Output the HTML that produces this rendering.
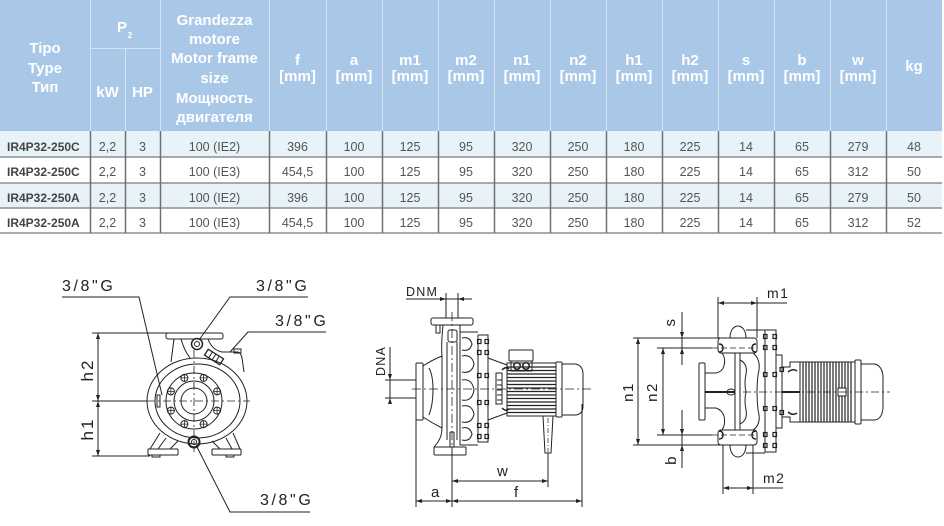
<!DOCTYPE html>
<html><head><meta charset="utf-8"><style>
html,body{margin:0;padding:0;background:#fff;}
svg{display:block;}
</style></head><body>
<svg width="944" height="526" viewBox="0 0 944 526" xmlns="http://www.w3.org/2000/svg" font-family="'Liberation Sans', sans-serif">
<!-- ===== TABLE ===== -->
<rect x="0" y="0" width="942" height="131" fill="#a9c8e8"/>
<rect x="0" y="131" width="942" height="26" fill="#e7f3f8"/>
<rect x="0" y="157" width="942" height="26" fill="#ffffff"/>
<rect x="0" y="183" width="942" height="25" fill="#e7f3f8"/>
<rect x="0" y="208" width="942" height="25" fill="#ffffff"/>
<g stroke="#d3e3f3" stroke-width="1">
<line x1="90.5" y1="0" x2="90.5" y2="131"/>
<line x1="160.5" y1="0" x2="160.5" y2="131"/>
<line x1="125.5" y1="48" x2="125.5" y2="131"/>
<line x1="90" y1="48.5" x2="160" y2="48.5"/>
<line x1="269.5" y1="0" x2="269.5" y2="131"/>
<line x1="326.5" y1="0" x2="326.5" y2="131"/>
<line x1="382.5" y1="0" x2="382.5" y2="131"/>
<line x1="438.5" y1="0" x2="438.5" y2="131"/>
<line x1="494.5" y1="0" x2="494.5" y2="131"/>
<line x1="550.5" y1="0" x2="550.5" y2="131"/>
<line x1="606.5" y1="0" x2="606.5" y2="131"/>
<line x1="662.5" y1="0" x2="662.5" y2="131"/>
<line x1="718.5" y1="0" x2="718.5" y2="131"/>
<line x1="774.5" y1="0" x2="774.5" y2="131"/>
<line x1="830.5" y1="0" x2="830.5" y2="131"/>
<line x1="886.5" y1="0" x2="886.5" y2="131"/>
</g>
<g stroke="#8f8f8f" stroke-width="1.5">
<line x1="0" y1="157" x2="942" y2="157"/>
<line x1="0" y1="183" x2="942" y2="183"/>
<line x1="0" y1="208" x2="942" y2="208"/>
<line x1="0" y1="233" x2="942" y2="233"/>
</g>
<g stroke="#707070" stroke-width="1.5">
<line x1="90.5" y1="131" x2="90.5" y2="233"/>
<line x1="125.5" y1="131" x2="125.5" y2="233"/>
<line x1="160.5" y1="131" x2="160.5" y2="233"/>
<line x1="269.5" y1="131" x2="269.5" y2="233"/>
<line x1="326.5" y1="131" x2="326.5" y2="233"/>
<line x1="382.5" y1="131" x2="382.5" y2="233"/>
<line x1="438.5" y1="131" x2="438.5" y2="233"/>
<line x1="494.5" y1="131" x2="494.5" y2="233"/>
<line x1="550.5" y1="131" x2="550.5" y2="233"/>
<line x1="606.5" y1="131" x2="606.5" y2="233"/>
<line x1="662.5" y1="131" x2="662.5" y2="233"/>
<line x1="718.5" y1="131" x2="718.5" y2="233"/>
<line x1="774.5" y1="131" x2="774.5" y2="233"/>
<line x1="830.5" y1="131" x2="830.5" y2="233"/>
<line x1="886.5" y1="131" x2="886.5" y2="233"/>
</g>
<!-- header text -->
<g fill="#ffffff" font-weight="bold" font-size="15" text-anchor="middle">
<text x="45" y="53">Tipo</text>
<text x="45" y="73">Type</text>
<text x="45" y="92">Тип</text>
<text x="122" y="32">P</text>
<text x="130" y="38" font-size="8">2</text>
<text x="107.5" y="97">kW</text>
<text x="142.5" y="97">HP</text>
<text x="214.5" y="25">Grandezza</text>
<text x="214.5" y="44">motore</text>
<text x="214.5" y="63">Motor frame</text>
<text x="214.5" y="83">size</text>
<text x="214.5" y="103">Мощность</text>
<text x="214.5" y="122">двигателя</text>
<text x="297.5" y="65">f</text><text x="297.5" y="81">[mm]</text>
<text x="354" y="65">a</text><text x="354" y="81">[mm]</text>
<text x="410" y="65">m1</text><text x="410" y="81">[mm]</text>
<text x="466" y="65">m2</text><text x="466" y="81">[mm]</text>
<text x="522" y="65">n1</text><text x="522" y="81">[mm]</text>
<text x="578" y="65">n2</text><text x="578" y="81">[mm]</text>
<text x="634" y="65">h1</text><text x="634" y="81">[mm]</text>
<text x="690" y="65">h2</text><text x="690" y="81">[mm]</text>
<text x="746" y="65">s</text><text x="746" y="81">[mm]</text>
<text x="802" y="65">b</text><text x="802" y="81">[mm]</text>
<text x="858" y="65">w</text><text x="858" y="81">[mm]</text>
<text x="914" y="71">kg</text>
</g>
<!-- body text -->
<g fill="#444" font-weight="bold" font-size="12">
<text x="7" y="151">IR4P32-250C</text>
<text x="7" y="176">IR4P32-250C</text>
<text x="7" y="202">IR4P32-250A</text>
<text x="7" y="227">IR4P32-250A</text>
</g>
<g fill="#555" font-size="12.5" text-anchor="middle">
<text x="107.5" y="151">2,2</text><text x="142.5" y="151">3</text><text x="214.5" y="151">100 (IE2)</text><text x="297.5" y="151">396</text><text x="354" y="151">100</text><text x="410" y="151">125</text><text x="466" y="151">95</text><text x="522" y="151">320</text><text x="578" y="151">250</text><text x="634" y="151">180</text><text x="690" y="151">225</text><text x="746" y="151">14</text><text x="802" y="151">65</text><text x="858" y="151">279</text><text x="914" y="151">48</text>
<text x="107.5" y="176">2,2</text><text x="142.5" y="176">3</text><text x="214.5" y="176">100 (IE3)</text><text x="297.5" y="176">454,5</text><text x="354" y="176">100</text><text x="410" y="176">125</text><text x="466" y="176">95</text><text x="522" y="176">320</text><text x="578" y="176">250</text><text x="634" y="176">180</text><text x="690" y="176">225</text><text x="746" y="176">14</text><text x="802" y="176">65</text><text x="858" y="176">312</text><text x="914" y="176">50</text>
<text x="107.5" y="202">2,2</text><text x="142.5" y="202">3</text><text x="214.5" y="202">100 (IE2)</text><text x="297.5" y="202">396</text><text x="354" y="202">100</text><text x="410" y="202">125</text><text x="466" y="202">95</text><text x="522" y="202">320</text><text x="578" y="202">250</text><text x="634" y="202">180</text><text x="690" y="202">225</text><text x="746" y="202">14</text><text x="802" y="202">65</text><text x="858" y="202">279</text><text x="914" y="202">50</text>
<text x="107.5" y="227">2,2</text><text x="142.5" y="227">3</text><text x="214.5" y="227">100 (IE3)</text><text x="297.5" y="227">454,5</text><text x="354" y="227">100</text><text x="410" y="227">125</text><text x="466" y="227">95</text><text x="522" y="227">320</text><text x="578" y="227">250</text><text x="634" y="227">180</text><text x="690" y="227">225</text><text x="746" y="227">14</text><text x="802" y="227">65</text><text x="858" y="227">312</text><text x="914" y="227">52</text>
</g>

<!-- ===== DRAWING 1: FRONT VIEW ===== -->
<g fill="#222" font-size="16" letter-spacing="2.6">
<text x="62" y="291">3/8"G</text>
<text x="256" y="291">3/8"G</text>
<text x="275" y="326">3/8"G</text>
<text x="260" y="505">3/8"G</text>
</g>
<g fill="#222" font-size="17" letter-spacing="2" text-anchor="middle">
<text transform="translate(93,370) rotate(-90)">h2</text>
<text transform="translate(93,429) rotate(-90)">h1</text>
</g>
<g stroke="#222" fill="none" stroke-width="1">
<polyline points="62,297 139,297 162,395"/>
<polyline points="308,297 230,297 199,340"/>
<polyline points="326,332 248,332 230,352"/>
<polyline points="310,512 230,512 196,445"/>
<line x1="98" y1="333" x2="98" y2="456"/>
<line x1="92" y1="333" x2="168" y2="333"/>
<line x1="92" y1="401" x2="147" y2="401"/>
<line x1="92" y1="456" x2="150" y2="456"/>
<!-- body -->
<rect x="166" y="333" width="57" height="6" rx="2"/>
<path d="M174,339 L171,362"/>
<path d="M181,339 Q184,350 190,358"/>
<path d="M208,339 Q212,350 222,352 L238,352 Q241,353 242,358 L244,372"/>
<ellipse cx="197" cy="401" rx="50" ry="43"/>
<ellipse cx="197.5" cy="401" rx="42.5" ry="37"/>
<circle cx="194" cy="401" r="28"/>
<circle cx="194" cy="401" r="20"/>
<circle cx="194" cy="401" r="13"/>
<circle cx="197" cy="344" r="5.5" stroke-width="1.5"/>
<circle cx="197" cy="344" r="2.5"/>
<circle cx="194" cy="442" r="5.5" stroke-width="2"/>
<circle cx="194" cy="442" r="2.5"/>
<g transform="translate(214,357) rotate(32)">
<rect x="-9" y="-3.5" width="18" height="7" stroke-width="1.3"/>
<line x1="-4" y1="-3.5" x2="-4" y2="3.5"/><line x1="0" y1="-3.5" x2="0" y2="3.5"/><line x1="4" y1="-3.5" x2="4" y2="3.5"/>
</g>
<rect x="234" y="349" width="7" height="4"/>
<g>
<circle cx="217.1" cy="391.4" r="3.5"/><circle cx="217.1" cy="410.6" r="3.5"/>
<circle cx="170.9" cy="391.4" r="3.5"/><circle cx="170.9" cy="410.6" r="3.5"/>
<circle cx="203.6" cy="377.9" r="3.5"/><circle cx="184.4" cy="377.9" r="3.5"/>
<circle cx="203.6" cy="424.1" r="3.5"/><circle cx="184.4" cy="424.1" r="3.5"/>
<path d="M213.1,391.4h8M217.1,387.4v8M213.1,410.6h8M217.1,406.6v8M166.9,391.4h8M170.9,387.4v8M166.9,410.6h8M170.9,406.6v8M199.6,377.9h8M203.6,373.9v8M180.4,377.9h8M184.4,373.9v8M199.6,424.1h8M203.6,420.1v8M180.4,424.1h8M184.4,420.1v8" stroke-width="0.8"/>
</g>
<path d="M147,401 H250" stroke-dasharray="8 3 2 3" stroke-width="0.8"/>
<path d="M194,350 V452" stroke-dasharray="8 3 2 3" stroke-width="0.8"/>
<rect x="157" y="395" width="3" height="12"/>
<!-- feet -->
<path d="M148,449 H178 M148,455 H178 M148,449 V455 M178,449 V455"/>
<path d="M212,449 H241 M212,455 H241 M212,449 V455 M241,449 V455"/>
<path d="M152,455 v2 h8 v-2 M226,455 v2 h8 v-2"/>
<path d="M160,433 L150,449 M166,438 L158,449 M178,441 L170,449"/>
<path d="M233,433 L240,449 M226,438 L232,449 M212,441 L220,449"/>
</g>
<g fill="#222">
<polygon points="98,333 96,339 100,339"/>
<polygon points="98,401 96,395 100,395"/>
<polygon points="98,401 96,407 100,407"/>
<polygon points="98,456 96,450 100,450"/>
</g>

<!-- ===== DRAWING 2: SIDE VIEW ===== -->
<g fill="#222" font-size="12.5" letter-spacing="1.2">
<text x="406" y="296">DNM</text>
<text transform="translate(385,361) rotate(-90)" text-anchor="middle">DNA</text>
</g>
<g fill="#222" font-size="15">
<text x="497" y="476">w</text>
<text x="431" y="497">a</text>
<text x="514" y="497">f</text>
</g>
<g stroke="#222" fill="none" stroke-width="1">
<line x1="406" y1="299" x2="472" y2="299"/>
<line x1="446" y1="293" x2="446" y2="318"/>
<line x1="458" y1="293" x2="458" y2="318"/>
<line x1="390" y1="347" x2="390" y2="400"/>
<line x1="385" y1="380" x2="416" y2="380"/>
<line x1="385" y1="398" x2="416" y2="398"/>
<!-- pump -->
<rect x="431" y="318" width="42" height="7" rx="2"/>
<rect x="436" y="325" width="4" height="8"/>
<rect x="448" y="330" width="9" height="12" rx="2"/>
<rect x="416" y="363" width="7" height="57" rx="1"/>
<path d="M423,366 Q432,360 442,356"/>
<path d="M423,417 Q432,423 442,428"/>
<path d="M443,325 Q441,345 442,356 L442,428 Q442,436 438,442 L434,447"/>
<path d="M460,325 L460,445"/>
<path d="M447,342 L447,440"/>
<path d="M457,342 L457,440"/>
<path d="M429,368 Q433,375 433,390 Q433,405 429,415"/>
<rect x="434" y="447" width="32" height="8" rx="1"/>
<rect x="450" y="432" width="4" height="15" rx="1"/>
<path d="M460,332 L478,332 M460,445 L478,445"/>
<path d="M462,338 Q470,336 472,344 Q470,352 462,350 M462,356 Q472,354 474,364 Q472,374 462,372 M462,380 Q472,378 474,390 Q472,402 462,400 M462,406 Q472,404 474,414 Q472,424 462,422 M462,428 Q470,426 472,434 Q470,442 462,440"/>
<rect x="478" y="335" width="10" height="107"/>
<g stroke-width="1.2">
<rect x="477.5" y="339.5" width="3.5" height="4"/><rect x="485" y="339.5" width="3.5" height="4"/>
<rect x="477.5" y="350.5" width="3.5" height="4"/><rect x="485" y="350.5" width="3.5" height="4"/>
<rect x="477.5" y="373.5" width="3.5" height="4"/><rect x="485" y="373.5" width="3.5" height="4"/>
<rect x="477.5" y="400.5" width="3.5" height="4"/><rect x="485" y="400.5" width="3.5" height="4"/>
<rect x="477.5" y="423.5" width="3.5" height="4"/><rect x="485" y="423.5" width="3.5" height="4"/>
<rect x="477.5" y="434.5" width="3.5" height="4"/><rect x="485" y="434.5" width="3.5" height="4"/>
</g>
<path d="M488,358 L507,365 L507,413 L488,420"/>
<rect x="496" y="373" width="6" height="31"/>
<path d="M497,380h5M497,385h5M497,390h5M497,395h5M497,400h5"/>
<path d="M502,370 q4,-4 7,-1 M502,408 q4,4 7,1" stroke-width="1.5"/>
<!-- motor -->
<rect x="509" y="350" width="24" height="11" rx="1"/>
<rect x="511" y="361" width="21" height="10"/>
<circle cx="517" cy="366" r="3.3" stroke-width="1.5"/>
<circle cx="526" cy="366" r="3.3" stroke-width="1.5"/>
<rect x="507" y="363" width="49" height="53"/>
<path d="M507,367H556M507,370.5H556M507,374H556M507,377.5H556M507,381H556M507,384.5H556M507,388H556M507,391.5H556M507,395H556M507,398.5H556M507,402H556M507,405.5H556M507,409H556M507,412.5H556" stroke-width="1.3"/>
<rect x="556" y="362" width="6" height="55" rx="1"/>
<path d="M562,364 L576,364 Q583,366 583,374 L583,406 Q583,414 576,415 L562,415"/>
<path d="M543,416 L553,416 L551,453 L545,453 Z"/>
<path d="M548,418 V452" stroke-dasharray="5 2 1 2" stroke-width="0.7"/>
<!-- center lines -->
<path d="M412,389 H592" stroke-dasharray="9 3 2 3" stroke-width="0.8"/>
<path d="M452,312 V447" stroke-dasharray="9 3 2 3" stroke-width="0.8"/>
<line x1="452" y1="447" x2="452" y2="507"/>
<!-- dims -->
<line x1="452" y1="481" x2="548" y2="481"/>
<line x1="548" y1="453" x2="548" y2="487"/>
<line x1="416" y1="501" x2="582" y2="501"/>
<line x1="416" y1="420" x2="416" y2="507"/>
<line x1="582" y1="404" x2="582" y2="507"/>
</g>
<g fill="#222">
<polygon points="446,299 440,297 440,301"/>
<polygon points="458,299 464,297 464,301"/>
<polygon points="390,380 388,374 392,374"/>
<polygon points="390,398 388,404 392,404"/>
<polygon points="452,481 458,479 458,483"/>
<polygon points="548,481 542,479 542,483"/>
<polygon points="416,501 422,499 422,503"/>
<polygon points="452,501 446,499 446,503"/>
<polygon points="452,501 458,499 458,503"/>
<polygon points="582,501 576,499 576,503"/>
</g>

<!-- ===== DRAWING 3: PLAN VIEW ===== -->
<g fill="#222" font-size="14" letter-spacing="1.5">
<text x="767" y="298">m1</text>
<text x="763" y="483">m2</text>
</g>
<g fill="#222" font-size="15" letter-spacing="1.5" text-anchor="middle">
<text transform="translate(633,392) rotate(-90)">n1</text>
<text transform="translate(657,392) rotate(-90)">n2</text>
<text transform="translate(675,322) rotate(-90)">s</text>
<text transform="translate(676,460) rotate(-90)">b</text>
</g>
<g stroke="#222" fill="none" stroke-width="1">
<line x1="718" y1="303" x2="787" y2="303"/>
<line x1="718" y1="297" x2="718" y2="338"/>
<line x1="757" y1="297" x2="757" y2="338"/>
<line x1="723" y1="445" x2="723" y2="494"/>
<line x1="753" y1="445" x2="753" y2="494"/>
<line x1="723" y1="488" x2="783" y2="488"/>
<line x1="638" y1="338" x2="638" y2="445"/>
<line x1="663" y1="348" x2="663" y2="435"/>
<line x1="682" y1="312" x2="682" y2="365"/>
<line x1="682" y1="410" x2="682" y2="468"/>
<line x1="633" y1="338" x2="720" y2="338"/>
<line x1="657" y1="348" x2="712" y2="348"/>
<line x1="657" y1="435" x2="712" y2="435"/>
<line x1="633" y1="445" x2="720" y2="445"/>
<!-- pump plan -->
<rect x="718" y="338" width="39" height="15" rx="3"/>
<rect x="718" y="430" width="39" height="15" rx="3"/>
<path d="M712,348 H757 M712,435 H757" stroke-dasharray="6 3" stroke-width="0.8"/>
<path d="M719,344 q4,0 4,4 q0,4 -4,4 M756,344 q-4,0 -4,4 q0,4 4,4" stroke-width="1.4"/>
<path d="M719,431 q4,0 4,4 q0,4 -4,4 M756,431 q-4,0 -4,4 q0,4 4,4" stroke-width="1.4"/>
<path d="M730,338 C730,322 746,322 746,338"/>
<path d="M730,445 C730,461 746,461 746,445"/>
<path d="M746,330 L765,330"/>
<path d="M746,453 L765,453"/>
<rect x="699" y="363" width="6" height="57" rx="1"/>
<path d="M705,373 L716,373 Q722,372 724,366 Q726,358 722,353"/>
<path d="M705,408 L716,408 Q722,410 724,416 Q726,424 722,430"/>
<path d="M735,353 V430 M740,353 V430"/>
<path d="M705,392 H735" stroke-width="2"/>
<ellipse cx="731" cy="392" rx="4" ry="3"/>
<path d="M740,360 Q748,364 746,374 Q744,384 746,392 Q744,400 746,410 Q748,420 740,424"/>
<path d="M753,353 Q762,360 758,375 Q756,392 758,410 Q762,424 753,430"/>
<rect x="765" y="330" width="11" height="122"/>
<rect x="776" y="355" width="6" height="73"/>
<g stroke-width="1.2">
<rect x="763.5" y="334.5" width="3.5" height="4"/><rect x="773" y="334.5" width="3.5" height="4"/>
<rect x="763.5" y="345.5" width="3.5" height="4"/><rect x="773" y="345.5" width="3.5" height="4"/>
<rect x="763.5" y="372.5" width="3.5" height="4"/><rect x="773" y="372.5" width="3.5" height="4"/>
<rect x="763.5" y="406.5" width="3.5" height="4"/><rect x="773" y="406.5" width="3.5" height="4"/>
<rect x="763.5" y="432.5" width="3.5" height="4"/><rect x="773" y="432.5" width="3.5" height="4"/>
<rect x="763.5" y="443.5" width="3.5" height="4"/><rect x="773" y="443.5" width="3.5" height="4"/>
<rect x="780" y="367.5" width="3.5" height="4"/><rect x="780" y="410.5" width="3.5" height="4"/>
</g>
<path d="M782,367 L790,367 L790,362 L800,362 M782,417 L790,417 L790,422 L800,422"/>
<path d="M788,372 q5,-4 9,-1 M788,412 q5,4 9,1" stroke-width="1.5"/>
<path d="M782,392 H800" stroke-width="2"/>
<rect x="800" y="362" width="55" height="60"/>
<path d="M803,362V422M806,362V422M809,362V422M812,362V422M815,362V422M818,362V422M821,362V422M824,362V422M827,362V422M830,362V422M833,362V422M836,362V422M839,362V422M842,362V422M845,362V422M848,362V422M851,362V422" stroke-width="1.2"/>
<rect x="838" y="388" width="8" height="8" fill="#fff"/>
<rect x="855" y="360" width="6" height="64" rx="1"/>
<path d="M861,364 L875,364 Q882,366 883,376 L883,408 Q882,419 875,420 L861,420"/>
<path d="M743,392 H890" stroke-dasharray="8 3 2 3" stroke-width="0.8"/>
</g>
<g fill="#222">
<polygon points="718,303 724,301 724,305"/>
<polygon points="757,303 751,301 751,305"/>
<polygon points="723,488 729,486 729,490"/>
<polygon points="753,488 747,486 747,490"/>
<polygon points="638,338 636,344 640,344"/>
<polygon points="638,445 636,439 640,439"/>
<polygon points="663,348 661,354 665,354"/>
<polygon points="663,435 661,429 665,429"/>
<polygon points="682,338 680,332 684,332"/>
<polygon points="682,348 680,354 684,354"/>
<polygon points="682,435 680,429 684,429"/>
<polygon points="682,445 680,451 684,451"/>
</g>
</svg>
</body></html>
